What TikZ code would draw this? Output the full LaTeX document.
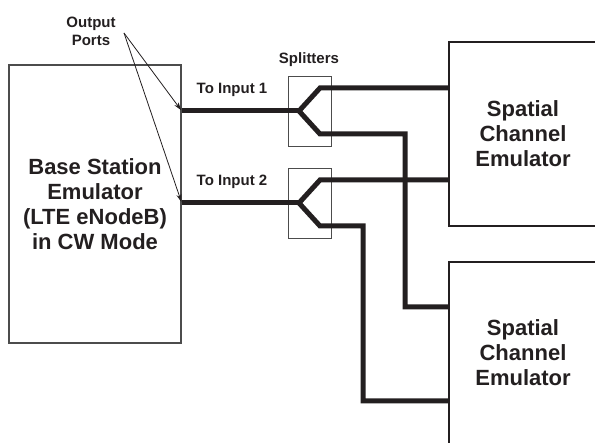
\documentclass[tikz,border=0pt]{standalone}
\usepackage{fontspec}
\setmainfont{Liberation Sans}
\usepackage{xcolor}
\usepackage{tikz}
\usetikzlibrary{arrows.meta,positioning,calc}

\definecolor{inkgray}{HTML}{231F20}

\begin{document}
\begin{tikzpicture}[
    x=1pt,
    y=-1pt,
    font=\bfseries,
    text=inkgray,
    >={Stealth[length=8pt,width=5pt]},
    unit/.style={
        draw=inkgray,
        line width=2pt,
        align=center,
        inner sep=0pt,
        font=\fontsize{22}{25}\selectfont\bfseries
    },
    splitbox/.style={
        draw=black!70,
        line width=0.8pt,
        minimum width=43,
        minimum height=70,
        inner sep=0pt
    },
    cable/.style={
        draw=inkgray,
        line width=5pt
    },
    pointer/.style={
        ->,
        draw=inkgray,
        line width=0.8pt,
        shorten >=1pt
    },
    smallLabel/.style={
        align=center,
        inner sep=0pt,
        font=\fontsize{15}{18}\selectfont\bfseries
    }
]

\clip (0,0) rectangle (595,443);

% Base station
\node[unit, draw=black!70, line width=1.5pt, minimum width=172, minimum height=278] (bs) at (95,204) {
    Base Station\\
    Emulator\\
    (LTE eNodeB)\\
    in CW Mode
};

% Splitters
\node[splitbox] (split1) at (309.5,111) {};
\node[splitbox] (split2) at (309.5,203.5) {};

% Emulators, cut by the right edge
\node[unit, minimum width=148, minimum height=184] (sce1) at (523,134) {
    Spatial\\
    Channel\\
    Emulator
};

\node[unit, minimum width=148, minimum height=182] (sce2) at (523,353) {
    Spatial\\
    Channel\\
    Emulator
};

% Labels
\node[smallLabel] (ports) at (91,31) {Output\\Ports};
\node[smallLabel] (in1) at (232,90) {To Input 1};
\node[smallLabel] (in2) at (232,182) {To Input 2};
\node[smallLabel] (splitLabel) at (309,60) {Splitters};

% Forks inside the splitters
\coordinate (fork1) at (299,111);
\coordinate (fork1Up) at (320,88);
\coordinate (fork1Down) at (320,134);
\coordinate (fork2) at (299,203);
\coordinate (fork2Up) at (320,180);
\coordinate (fork2Down) at (320,226);

% Cables from the base station
\draw[cable] (bs.east |- fork1) -- (fork1);
\draw[cable] (bs.east |- fork2) -- (fork2);

% Splitter 1
\draw[cable]
    (fork1)
    --
    (fork1Up)
    --
    (sce1.west |- fork1Up);

\coordinate (routeA) at (405,134);
\coordinate (routeB) at (405,307);

\draw[cable]
    (fork1)
    --
    (fork1Down)
    --
    (routeA)
    --
    (routeB)
    --
    (sce2.west |- routeB);

% Splitter 2
\draw[cable]
    (fork2)
    --
    (fork2Up)
    --
    (sce1.west |- fork2Up);

\coordinate (routeC) at (363,226);
\coordinate (routeD) at (363,401);

\draw[cable]
    (fork2)
    --
    (fork2Down)
    --
    (routeC)
    --
    (routeD)
    --
    (sce2.west |- routeD);

% Output port pointers
\coordinate (portsTip) at (124,33);
\draw[pointer] (portsTip) -- (bs.east |- fork1);
\draw[pointer] (portsTip) -- (bs.east |- fork2);

\end{tikzpicture}
\end{document}
